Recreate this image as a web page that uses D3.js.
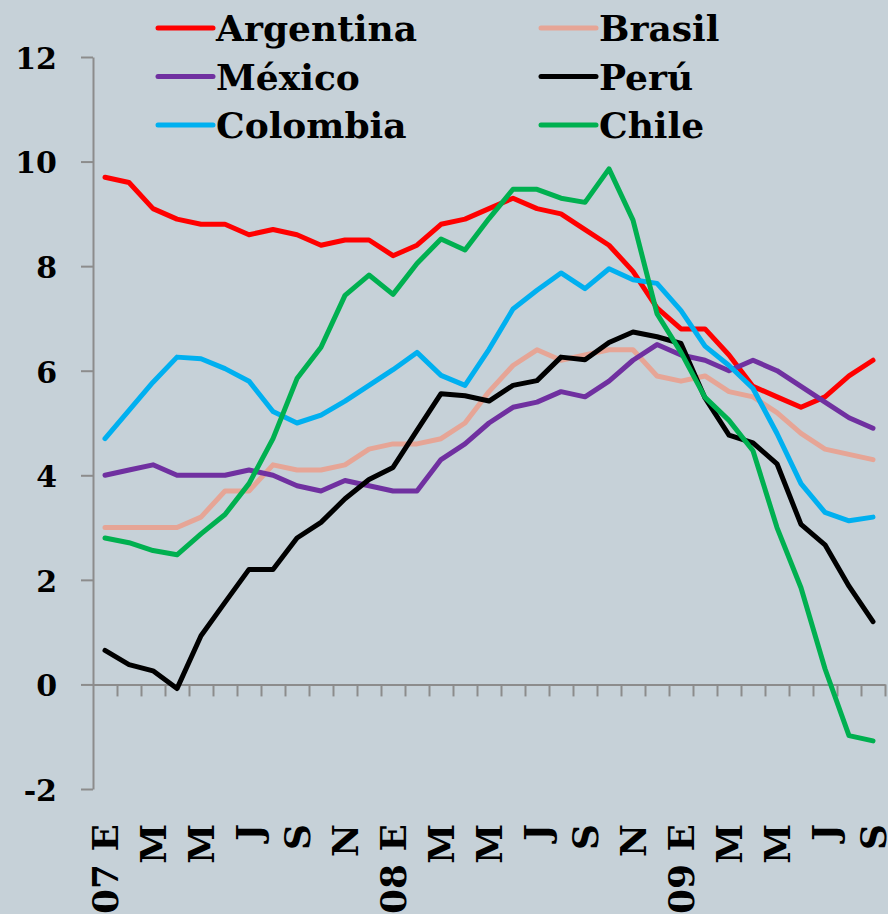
<!DOCTYPE html>
<html>
<head>
<meta charset="utf-8">
<script src="https://cdn.jsdelivr.net/npm/d3@7"></script>
<style>
  html, body { margin: 0; padding: 0; background: #c6d1d8; }
  svg { display: block; font-family: "DejaVu Serif", serif; font-weight: bold; }
</style>
</head>
<body>
<svg width="888" height="914"></svg>
<script>
// meses ene-2007 .. sep-2009, etiqueta cada dos meses
const tickLabels = ['07 E', 'M', 'M', 'J', 'S', 'N', '08 E', 'M', 'M', 'J', 'S', 'N', '09 E', 'M', 'M', 'J', 'S']
const months = d3.range(33)
const yTicks = [-2, 0, 2, 4, 6, 8, 10, 12]

const argentina = [9.7, 9.6, 9.1, 8.9, 8.8, 8.8, 8.6, 8.7, 8.6, 8.4, 8.5, 8.5, 8.2, 8.4, 8.8, 8.9, 9.1, 9.3, 9.1, 9.0, 8.7, 8.4, 7.9, 7.2, 6.8, 6.8, 6.3, 5.7, 5.5, 5.3, 5.5, 5.9, 6.2]
const brasil = [3.0, 3.0, 3.0, 3.0, 3.2, 3.7, 3.7, 4.2, 4.1, 4.1, 4.2, 4.5, 4.6, 4.6, 4.7, 5.0, 5.6, 6.1, 6.4, 6.2, 6.3, 6.4, 6.4, 5.9, 5.8, 5.9, 5.6, 5.5, 5.2, 4.8, 4.5, 4.4, 4.3]
const mexico = [4.0, 4.1, 4.2, 4.0, 4.0, 4.0, 4.1, 4.0, 3.8, 3.7, 3.9, 3.8, 3.7, 3.7, 4.3, 4.6, 5.0, 5.3, 5.4, 5.6, 5.5, 5.8, 6.2, 6.5, 6.3, 6.2, 6.0, 6.2, 6.0, 5.7, 5.4, 5.1, 4.9]
const peru = [0.65, 0.38, 0.26, -0.08, 0.93, 1.57, 2.2, 2.2, 2.8, 3.1, 3.55, 3.92, 4.15, 4.86, 5.56, 5.52, 5.42, 5.72, 5.81, 6.26, 6.21, 6.54, 6.74, 6.65, 6.52, 5.48, 4.77, 4.62, 4.22, 3.06, 2.67, 1.88, 1.2]
const colombia = [4.7, 5.24, 5.78, 6.26, 6.23, 6.04, 5.8, 5.22, 5.0, 5.15, 5.42, 5.72, 6.02, 6.35, 5.91, 5.72, 6.41, 7.18, 7.54, 7.87, 7.57, 7.95, 7.74, 7.67, 7.15, 6.47, 6.1, 5.66, 4.8, 3.84, 3.29, 3.13, 3.2]
const chile = [2.8, 2.71, 2.56, 2.48, 2.88, 3.25, 3.84, 4.7, 5.85, 6.45, 7.44, 7.83, 7.46, 8.05, 8.52, 8.31, 8.91, 9.47, 9.47, 9.3, 9.22, 9.86, 8.88, 7.09, 6.35, 5.49, 5.05, 4.47, 3.0, 1.85, 0.3, -0.98, -1.08]

const series = [
  { name: 'Argentina', values: argentina, color: '#ff0000' },
  { name: 'Brasil', values: brasil, color: '#e6a596' },
  { name: 'México', values: mexico, color: '#7030a0' },
  { name: 'Perú', values: peru, color: '#000000' },
  { name: 'Colombia', values: colombia, color: '#00b0f0' },
  { name: 'Chile', values: chile, color: '#00b050' }
]

const svg = d3.select('svg'),
  plotLeft = 93,
  plotRight = 885,
  plotTop = 57,
  plotBottom = 789,
  x = d3.scaleBand().domain(months).range([plotLeft, plotRight]).padding(0),
  xEdge = d3.scaleLinear().domain([0, 33]).range([plotLeft, plotRight]),
  y = d3.scaleLinear().domain([-2, 12]).range([plotBottom, plotTop]),
  axisColor = '#8c8c8c'

const cx = i => x(i) + x.bandwidth() / 2

// eje y
const gy = svg.append('g')
  .attr('transform', `translate(${plotLeft},0)`)
  .call(d3.axisLeft(y).tickValues(yTicks).tickSize(12).tickSizeOuter(0).tickPadding(24).tickFormat(d => String(d)))
gy.select('.domain').attr('stroke', axisColor).attr('stroke-width', 2)
gy.selectAll('.tick line').attr('stroke', axisColor).attr('stroke-width', 2)
gy.selectAll('.tick text')
  .attr('fill', '#000')
  .attr('dy', '0.38em')
  .style('font-family', '"DejaVu Serif", serif')
  .style('font-weight', 'bold')
  .style('font-size', '30px')

// eje x en el cero
const gx = svg.append('g')
  .attr('transform', `translate(0,${y(0)})`)
  .call(d3.axisBottom(xEdge).tickValues(d3.range(1, 34)).tickSize(12).tickSizeOuter(0).tickFormat(''))
gx.select('.domain').attr('stroke', axisColor).attr('stroke-width', 2)
gx.selectAll('.tick line').attr('stroke', axisColor).attr('stroke-width', 2)

// etiquetas de meses
svg.append('g')
  .selectAll('text')
  .data(tickLabels)
  .join('text')
  .attr('transform', (d, i) => `translate(${cx(i * 2) + 13},824) rotate(-90)`)
  .attr('text-anchor', 'end')
  .style('font-size', '36px')
  .text(d => d)

// líneas
const line = d3.line()
  .x((d, i) => cx(i))
  .y(d => y(d))

svg.append('g')
  .selectAll('path')
  .data(series)
  .join('path')
  .attr('d', d => line(d.values))
  .attr('fill', 'none')
  .attr('stroke', d => d.color)
  .attr('stroke-width', 5)
  .attr('stroke-linejoin', 'round')
  .attr('stroke-linecap', 'round')

// leyenda
const legend = svg.append('g')
  .selectAll('g')
  .data(series)
  .join('g')
  .attr('transform', (d, i) => `translate(${i % 2 === 0 ? 158 : 541},${28 + Math.floor(i / 2) * 48.5})`)

legend.append('line')
  .attr('x1', 0).attr('x2', 55)
  .attr('stroke', d => d.color)
  .attr('stroke-width', 5)
  .attr('stroke-linecap', 'round')

legend.append('text')
  .attr('x', 58)
  .attr('y', 13)
  .style('font-size', '36px')
  .text(d => d.name)
</script>
</body>
</html>
